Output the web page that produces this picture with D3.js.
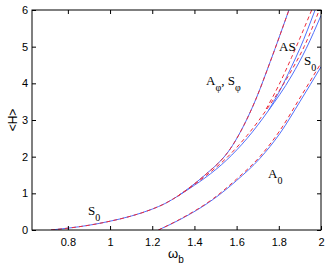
<!DOCTYPE html>
<html>
<head>
<meta charset="utf-8">
<script src="https://cdn.jsdelivr.net/npm/d3@7"></script>
<style>
  body { margin: 0; background: #fff; }
  svg { display: block; }
</style>
</head>
<body>
<svg id="chart" width="327" height="269"></svg>
<script>
// tick values
var xTicks = [0.8, 1, 1.2, 1.4, 1.6, 1.8, 2];
var yTicks = [0, 1, 2, 3, 4, 5, 6];

// branches, [omega_b, <H>]
var s0Low = [[0.72, 0], [0.8, 0.05], [0.9, 0.13], [1.0, 0.24], [1.1, 0.38], [1.2, 0.57], [1.26, 0.72], [1.32, 0.92]];
var phiBranch = [[1.32, 0.92], [1.38, 1.17], [1.44, 1.45], [1.58, 2.3], [1.69, 3.55], [1.76, 4.6], [1.848, 6.0]];
var s0UpBlue = [[1.32, 0.92], [1.4, 1.22], [1.45, 1.42], [1.553, 1.91], [1.65, 2.5], [1.75, 3.25], [1.86, 4.2], [1.93, 4.95], [2.0, 5.85]];
var s0UpRed = [[1.32, 0.92], [1.4, 1.24], [1.45, 1.46], [1.553, 1.97], [1.65, 2.58], [1.75, 3.35], [1.86, 4.35], [1.92, 5.0], [1.992, 6.0]];
var asBlue = [[1.75, 3.25], [1.8, 3.75], [1.86, 4.45], [1.9, 4.95], [1.972, 6.0]];
var asRed = [[1.74, 3.3], [1.8, 3.95], [1.86, 4.7], [1.956, 6.0]];
var a0Blue = [[1.229, 0], [1.33, 0.28], [1.49, 0.84], [1.6, 1.35], [1.71, 1.95], [1.806, 2.64], [1.9, 3.5], [2.0, 4.45]];
var a0Red = [[1.229, 0], [1.33, 0.29], [1.49, 0.86], [1.6, 1.39], [1.71, 2.0], [1.806, 2.72], [1.9, 3.6], [2.0, 4.55]];

var blue = "#5070fb";
var red = "#ee2b3b";

var padL = 32, padR = 321, padT = 10, padB = 230;

var svg = d3.select("#chart");

var x = d3.scaleLinear().domain([0.63, 2]).range([padL, padR]);
var y = d3.scaleLinear().domain([0, 6]).range([padB, padT]);

svg.append("clipPath").attr("id", "plotclip")
    .append("rect")
    .attr("x", padL).attr("y", padT)
    .attr("width", padR - padL).attr("height", padB - padT);

var line = d3.line()
    .x(function (d) { return x(d[0]); })
    .y(function (d) { return y(d[1]); })
    .curve(d3.curveMonotoneX);

var curves = svg.append("g").attr("clip-path", "url(#plotclip)");

// solid blue first, dashed red on top
[s0Low, phiBranch, s0UpBlue, asBlue, a0Blue].forEach(function (d) {
    curves.append("path").datum(d)
        .attr("d", line)
        .attr("fill", "none")
        .attr("stroke", blue)
        .attr("stroke-width", 1);
});
[s0Low, phiBranch, s0UpRed, asRed, a0Red].forEach(function (d) {
    curves.append("path").datum(d)
        .attr("d", line)
        .attr("fill", "none")
        .attr("stroke", red)
        .attr("stroke-width", 1)
        .attr("stroke-dasharray", "4,3");
});

// axes with inward ticks on all four sides (matlab box)
var tickFont = "11px 'Liberation Sans', Arial, sans-serif";
var fmt = function (d) { return String(d); };

svg.append("g").attr("transform", "translate(0," + padB + ")")
    .call(d3.axisBottom(x).tickValues(xTicks).tickSizeInner(-4).tickSizeOuter(0).tickPadding(8).tickFormat(fmt))
    .call(function (g) {
        g.select(".domain").remove();
        g.selectAll("text").style("font", tickFont).attr("fill", "#000");
    });

svg.append("g").attr("transform", "translate(0," + padT + ")")
    .call(d3.axisTop(x).tickValues(xTicks).tickSizeInner(-4).tickSizeOuter(0).tickFormat(""))
    .call(function (g) { g.select(".domain").remove(); });

svg.append("g").attr("transform", "translate(" + padL + ",0)")
    .call(d3.axisLeft(y).tickValues(yTicks).tickSizeInner(-4).tickSizeOuter(0).tickPadding(4).tickFormat(fmt))
    .call(function (g) {
        g.select(".domain").remove();
        g.selectAll("text").style("font", tickFont).attr("fill", "#000");
    });

svg.append("g").attr("transform", "translate(" + padR + ",0)")
    .call(d3.axisRight(y).tickValues(yTicks).tickSizeInner(-4).tickSizeOuter(0).tickFormat(""))
    .call(function (g) { g.select(".domain").remove(); });

svg.append("rect")
    .attr("x", padL).attr("y", padT)
    .attr("width", padR - padL).attr("height", padB - padT)
    .attr("fill", "none").attr("stroke", "#000").attr("stroke-width", 1);

// axis titles
svg.append("text")
    .attr("transform", "translate(17,120) rotate(-90)")
    .attr("text-anchor", "middle")
    .style("font", "12px 'Liberation Sans', Arial, sans-serif")
    .text("<H>");

var xl = svg.append("text")
    .attr("x", 168).attr("y", 258)
    .style("font", "13px 'Liberation Sans', Arial, sans-serif");
xl.append("tspan").text("ω");
xl.append("tspan").attr("dy", 5).style("font-size", "10px").text("b");

// branch labels
var serif = "'Liberation Serif', 'Times New Roman', serif";
function label(px, py, parts) {
    var t = svg.append("text").attr("x", px).attr("y", py)
        .style("font-family", serif).style("font-size", "13px");
    parts.forEach(function (p) {
        var s = t.append("tspan").text(p[0]);
        if (p[1] === "sub") s.attr("dy", 6).style("font-size", "10px");
        if (p[1] === "up") s.attr("dy", -6);
    });
}
label(206, 85, [["A"], ["φ", "sub"], [", S", "up"], ["φ", "sub"]]);
label(279, 51, [["AS"]]);
label(304, 65, [["S"], ["0", "sub"]]);
label(268, 178, [["A"], ["0", "sub"]]);
label(88, 215, [["S"], ["0", "sub"]]);
</script>
</body>
</html>
